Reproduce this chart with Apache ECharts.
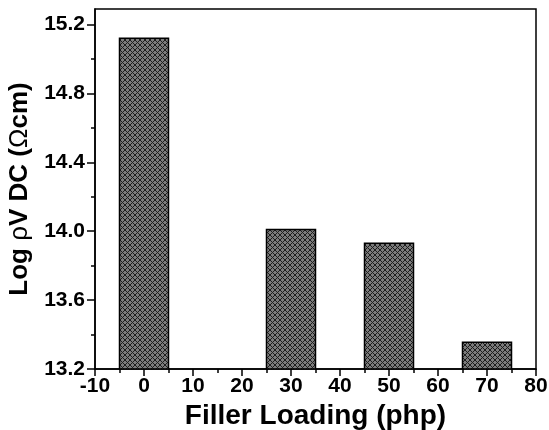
<!DOCTYPE html>
<html>
<head>
<meta charset="utf-8">
<script src="https://cdn.jsdelivr.net/npm/echarts@6/dist/echarts.min.js"></script>
<style>
html, body { margin: 0; padding: 0; background: #fff; }
#chart { width: 549px; height: 430px; }
</style>
</head>
<body>
<div id="chart"></div>
<script>
// filler loading (php) and log volume resistivity
var loadings = [0, 30, 50, 70];
var resistivity = [15.12, 14.01, 13.93, 13.355];
var yMajor = [13.2, 13.6, 14.0, 14.4, 14.8, 15.2];
var yMinor = [13.4, 13.8, 14.2, 14.6, 15.0];

function hatch() {
    var c = document.createElement('canvas');
    c.width = 5; c.height = 5;
    var ctx = c.getContext('2d');
    ctx.fillStyle = '#7c7c7c';
    ctx.fillRect(0, 0, 5, 5);
    ctx.fillStyle = '#1e1e1e';
    for (var i = 0; i < 5; i++) {
        ctx.fillRect(i, i, 1, 1);
        ctx.fillRect(4 - i, i, 1, 1);
    }
    return c;
}

function drawChart() {
    var myChart = echarts.init(document.getElementById('chart'));
    var pattern = { image: hatch(), repeat: 'repeat' };
    var data = loadings.map(function (x, i) { return [x, resistivity[i]]; });
    var font = 'Liberation Sans, Arial, sans-serif';
    option = {
        animation: false,
        textStyle: { fontFamily: font },
        grid: {
            left: 95,
            right: 13,
            top: 9,
            bottom: 61,
            outerBoundsMode: 'none',
            containLabel: false,
            show: true,
            borderColor: '#000',
            borderWidth: 1.5,
            backgroundColor: 'transparent'
        },
        xAxis: {
            type: 'value',
            min: -10,
            max: 80,
            interval: 10,
            name: 'Filler Loading (php)',
            nameLocation: 'middle',
            nameGap: 32,
            nameTextStyle: { fontSize: 28, fontWeight: 'bold', color: '#000', fontFamily: font },
            axisLine: { onZero: false, lineStyle: { color: '#000', width: 1.5 } },
            axisTick: { inside: false, length: 7, lineStyle: { color: '#000', width: 1.5 } },
            minorTick: { show: true, splitNumber: 2, length: 4, lineStyle: { color: '#000', width: 1.5 } },
            axisLabel: { fontSize: 21, fontWeight: 'bold', color: '#000', margin: 7, fontFamily: font },
            splitLine: { show: false }
        },
        yAxis: [{
            type: 'value',
            min: 13.2,
            max: 15.29,
            name: '{t|Log }{s|ρ}{t|V DC (}{s|Ω}{t|cm)}',
            nameLocation: 'middle',
            nameGap: 59,
            nameTextStyle: {
                rich: {
                    t: { fontSize: 26, fontWeight: 'bold', color: '#000', fontFamily: font },
                    s: { fontSize: 26, fontWeight: 'normal', color: '#000', fontFamily: font }
                }
            },
            axisLine: { onZero: false, lineStyle: { color: '#000', width: 1.5 } },
            axisTick: { inside: false, length: 8, customValues: yMajor, lineStyle: { color: '#000', width: 1.5 } },
            axisLabel: {
                customValues: yMajor,
                fontSize: 21, fontWeight: 'bold', color: '#000', margin: 10, fontFamily: font,
                formatter: function (v) { return v.toFixed(1); }
            },
            splitLine: { show: false }
        }, {
            type: 'value',
            position: 'left',
            min: 13.2,
            max: 15.29,
            axisLine: { show: false, onZero: false },
            axisTick: { show: true, inside: false, length: 4, customValues: yMinor, lineStyle: { color: '#000', width: 1.5 } },
            axisLabel: { show: false },
            splitLine: { show: false }
        }],
        series: [{
            type: 'custom',
            data: data,
            encode: { x: 0, y: 1 },
            clip: true,
            renderItem: function (params, api) {
                var x = api.value(0);
                var y = api.value(1);
                var p1 = api.coord([x - 5, y]);
                var p2 = api.coord([x + 5, 13.2]);
                return {
                    type: 'rect',
                    shape: { x: p1[0], y: p1[1], width: p2[0] - p1[0], height: p2[1] - p1[1] },
                    style: { fill: pattern, stroke: '#000', lineWidth: 1.5 }
                };
            }
        }]
    };
    myChart.setOption(option, true);
}
drawChart();
</script>
</body>
</html>
